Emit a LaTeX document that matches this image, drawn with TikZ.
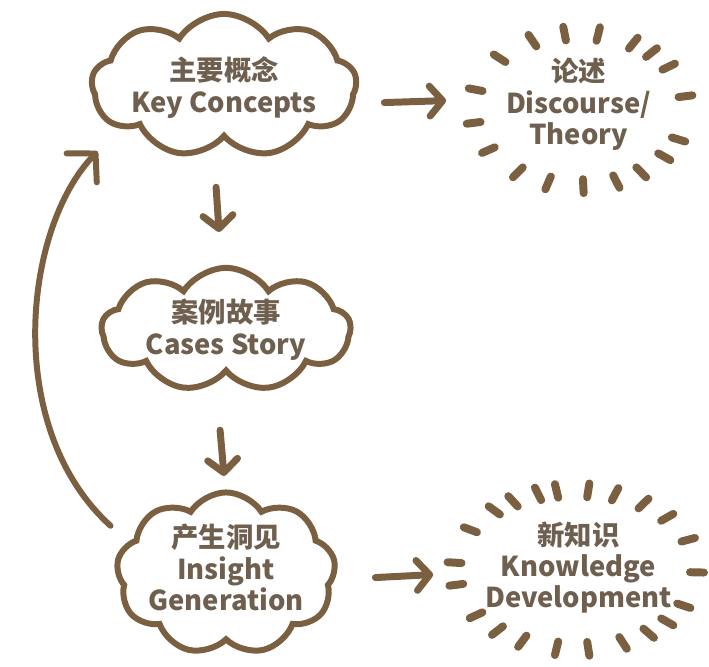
\documentclass[tikz,border=0pt]{standalone}
\usepackage{fontspec}
\setmainfont{Noto Sans CJK SC}
\usetikzlibrary{shapes.symbols,arrows.meta,calc}
\definecolor{ink}{RGB}{122,96,64}
\definecolor{txt}{RGB}{110,95,78}
\tikzset{
  cloudbox/.style={cloud, cloud puffs=9, cloud puff arc=115, cloud ignores aspect,
    draw=ink, line width=6pt, inner sep=0pt},
  lbl/.style={text=txt, font=\fontsize{27.5}{31.5}\selectfont\bfseries, align=center, inner sep=0pt},
  arr/.style={draw=ink, line width=7pt, line cap=round,
    -{Straight Barb[length=13pt,width=30pt,line width=7pt,round]}},
  carr/.style={draw=ink, line width=6pt, line cap=round,
    -{Straight Barb[length=20pt,width=42pt,line width=6pt,round]}},
  spark/.style={draw=ink, line width=8pt, line cap=round},
}
\begin{document}
\begin{tikzpicture}[x=1pt,y=-1pt]
\fill[white] (0,0) rectangle (709,669);

% clouds
\node[cloudbox, minimum width=266pt, minimum height=144pt] (kc) at (222,86) {};
\node[cloudbox, minimum width=250pt, minimum height=124pt] (cs) at (224,331) {};
\node[cloudbox, minimum width=220pt, minimum height=163pt] (ig) at (224,576) {};

% labels
\node[lbl] (kct) at (222,88) {主要概念\\Key Concepts};
\node[lbl] (cst) at (224,331) {案例故事\\Cases Story};
\node[lbl] (igt) at (224,570) {产生洞见\\Insight\\Generation};
\node[lbl] (disc) at (578,105) {论述\\Discourse/\\Theory};
\node[lbl] (kd) at (578,570) {新知识\\Knowledge\\Development};

% burst centres
\coordinate (dc) at (579,110);
\coordinate (kc2) at (575,572);

% sparkle rings
\foreach \a in {-116,-98,-80,-60,-48,-34,-10,23,38,55,70,88,107,125,148,170,-165,-138}{
  \coordinate (p) at ($(dc)+(\a:108 and 77)$);
  \draw[spark] ($(p)!7pt!(dc)$) -- ($(p)!-7pt!(dc)$);
}
\foreach \a in {-132,-121,-108,-99,-84,-71,-56,-41,-22,2,27,41,53,67,84,99,116,130,145,169,-175,-150}{
  \coordinate (p) at ($(kc2)+(\a:122 and 80)$);
  \draw[spark] ($(p)!7pt!(kc2)$) -- ($(p)!-7pt!(kc2)$);
}

% connectors
\draw[arr] ([shift={(161,17)}]kc.center) -- ([shift={(-134,-9)}]dc);
\draw[arr] ([shift={(-8,102)}]kc.center) -- ([shift={(-7,-98)}]cs.center);
\draw[arr] ([shift={(-6,101)}]cs.center) -- ([shift={(-2,-98)}]ig.center);
\draw[arr] ([shift={(150,4)}]ig.center) -- ([shift={(-143,5)}]kc2);
\draw[carr] ([shift={(-116,-48)}]ig.center) .. controls (0,430) and (20,230) .. ([shift={(-127,66)}]kc.center);
\end{tikzpicture}
\end{document}
